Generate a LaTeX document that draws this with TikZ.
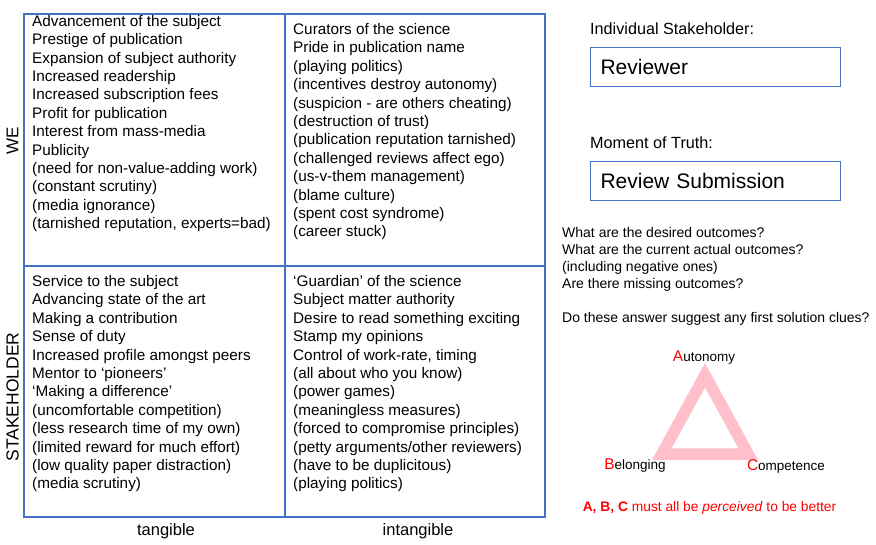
\documentclass[tikz,border=0pt]{standalone}
\usepackage{fontspec}
\setmainfont{Liberation Sans}
\usepackage{xcolor}
\usepackage{tikz}
\usetikzlibrary{positioning}
\definecolor{cFrame}{HTML}{4472C4}
\definecolor{cTri}{HTML}{FFC0CB}
\definecolor{cRed}{HTML}{FF0000}
\tikzset{
  frame/.style  ={cFrame,line width=1.2pt},
  cell/.style   ={anchor=north west,inner sep=0pt,align=left,font=\fontsize{15.3}{18.4}\selectfont},
  axis/.style   ={inner sep=0pt,font=\fontsize{16.5}{18}\selectfont},
  caption/.style={anchor=base west,inner sep=0pt,font=\fontsize{16.2}{18}\selectfont},
  answer/.style ={draw=cFrame,line width=1pt,anchor=west,text width=230pt,inner xsep=10pt,
                  minimum height=39pt,font=\fontsize{21}{23}\selectfont},
  vertex/.style ={inner sep=0pt,font=\fontsize{13.5}{15}\selectfont},
}
\newcommand{\redcap}[1]{{\color{cRed}\fontsize{15.5}{15}\selectfont #1}}

\begin{document}
\begin{tikzpicture}[x=1pt,y=-1pt]
  \useasboundingbox (0,0) rectangle (876,544);
  % the four quadrants
  \draw[frame] (24,14) rectangle (545,517);
  \draw[frame] (285,14) -- (285,517);
  \draw[frame] (24,266) -- (545,266);
  \node[axis,rotate=90,font=\fontsize{17}{19}\selectfont] (we) at (12.5,141) {WE};
  \node[axis,rotate=90,font=\fontsize{17.5}{19}\selectfont] (stake) at (12.5,397) {STAKEHOLDER};
  \node[axis] (tang) at (166,531) {tangible};
  \node[axis] (intang) at (418,531) {intangible};

  \node[cell] (wetang) at (32,15) {Advancement of the subject\\ Prestige of publication\\
    Expansion of subject authority\\ Increased readership\\ Increased subscription fees\\
    Profit for publication\\ Interest from mass-media\\ Publicity\\
    (need for non-value-adding work)\\ (constant scrutiny)\\ (media ignorance)\\
    (tarnished reputation, experts=bad)};
  \node[cell] (weintang) at (293,23.2) {Curators of the science\\ Pride in publication name\\
    (playing politics)\\ (incentives destroy autonomy)\\ (suspicion - are others cheating)\\
    (destruction of trust)\\ (publication reputation tarnished)\\
    (challenged reviews affect ego)\\ (us-v-them management)\\ (blame culture)\\
    (spent cost syndrome)\\ (career stuck)};
  \node[cell] (sttang) at (32,275.2) {Service to the subject\\ Advancing state of the art\\
    Making a contribution\\ Sense of duty\\ Increased profile amongst peers\\
    Mentor to `pioneers'\\ `Making a difference'\\ (uncomfortable competition)\\
    (less research time of my own)\\ (limited reward for much effort)\\
    (low quality paper distraction)\\ (media scrutiny)};
  \node[cell] (stintang) at (293,275.2) {`Guardian' of the science\\ Subject matter authority\\
    Desire to read something exciting\\ Stamp my opinions\\ Control of work-rate, timing\\
    (all about who you know)\\ (power games)\\ (meaningless measures)\\
    (forced to compromise principles)\\ (petty arguments/other reviewers)\\
    (have to be duplicitous)\\ (playing politics)};

  % right hand panel
  \node[caption] (indiv) at (590,34.5) {Individual Stakeholder:};
  \node[answer] (reviewer) at (590,66.5) {Reviewer};
  \node[caption] (moment) at (590,148.5) {Moment of Truth:};
  \node[answer] (submission) at (590,180.5) {Review Submission};
  \node[cell,font=\fontsize{14}{17}\selectfont] (questions) at (562,227.2)
    {What are the desired outcomes?\\ What are the current actual outcomes?\\
     (including negative ones)\\ Are there missing outcomes?\\[17pt]
     Do these answer suggest any first solution clues?};

  % autonomy / belonging / competence
  \coordinate (apexA) at (705,363);
  \coordinate (apexB) at (652,460);
  \coordinate (apexC) at (758,460);
  \fill[cTri,even odd rule] (apexA) -- (apexB) -- (apexC) -- cycle
    (705,387.5) -- (671.7,448.3) -- (738.3,448.3) -- cycle;
  \node[vertex] (auto) at (704,358) {\redcap{A}utonomy};
  \node[vertex] (belong) at (635,466) {\redcap{B}elonging};
  \node[vertex] (compet) at (786,466) {\redcap{C}ompetence};
  \node[vertex,text=cRed,font=\fontsize{13.8}{15}\selectfont] (better) at (709.5,508)
    {\textbf{A, B, C} must all be \textit{perceived} to be better};
\end{tikzpicture}
\end{document}
